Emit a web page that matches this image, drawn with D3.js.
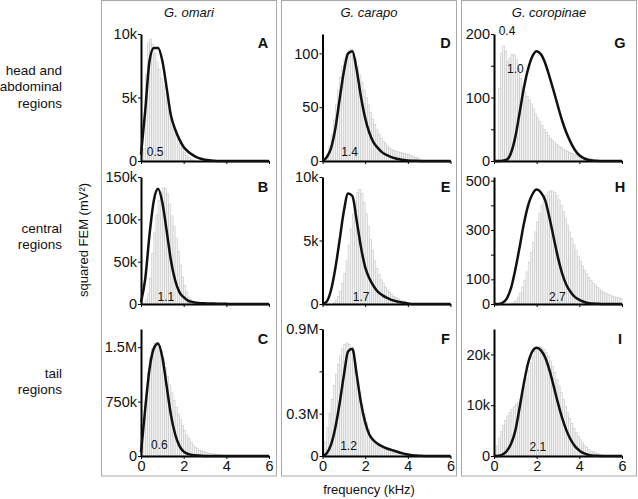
<!DOCTYPE html>
<html><head><meta charset="utf-8">
<script src="https://cdn.jsdelivr.net/npm/d3@7"></script>
<style>
body{margin:0;background:#fff}
svg{display:block}
text{font-family:"Liberation Sans",Arial,sans-serif;fill:#111}
</style>
</head><body>
<svg id="chart" width="638" height="499"></svg>
<script>
// ---------------- DATA ----------------
const species = ["G. omari", "G. carapo", "G. coropinae"];
const regionLabels = [["head and", "abdominal", "regions"], ["central", "regions"], ["tail", "regions"]];
const panelLetters = ["A", "B", "C", "D", "E", "F", "G", "H", "I"];
const xTicks = [0, 2, 4, 6];
const binWidth = 0.1; // kHz
const curveFreq = [0, 0.2, 0.4, 0.6, 0.8, 1.0, 1.2, 1.4, 1.6, 1.8, 2.0, 2.2, 2.4, 2.6, 2.8, 3.0,
  3.2, 3.4, 3.6, 3.8, 4.0, 4.2, 4.4, 4.6, 4.8, 5.0, 5.2, 5.4, 5.6, 5.8, 6.0];

// G. omari
const histA = [0.5, 1.0, 6.8, 9.3, 9.6, 9.2, 8.5, 7.8, 7.2, 6.5, 5.9, 5.3, 4.7, 4.0, 3.3, 2.7, 2.2, 1.8, 1.4, 1.0, 0.7, 0.45, 0.3, 0.15, 0.08];
const curveA = [0.5, 4.0, 7.9, 8.9, 8.9, 7.9, 5.8, 3.6, 2.5, 1.7, 1.1, 0.75, 0.5, 0.3, 0.18, 0.1, 0.05, 0.02, 0, 0, 0, 0, 0, 0, 0, 0, 0, 0, 0, 0, 0];
const histB = [0, 1, 5, 12, 30, 60, 85, 105, 122, 132, 137, 137, 130, 118, 104, 92, 78, 62, 46, 32, 22, 14, 8, 5, 3, 2, 1];
const curveB = [2, 30, 82, 122, 136, 120, 87, 52, 28, 14, 8, 4, 2.5, 1.5, 1, 0.8, 0.6, 0.5, 0.4, 0.3, 0.2, 0, 0, 0, 0, 0, 0, 0, 0, 0, 0];
const histC = [0.15, 0.45, 0.85, 1.15, 1.35, 1.48, 1.55, 1.56, 1.52, 1.44, 1.34, 1.22, 1.1, 0.98, 0.87, 0.77, 0.67, 0.58, 0.5, 0.42, 0.35, 0.29, 0.24, 0.19, 0.15, 0.12, 0.1, 0.08, 0.07, 0.06, 0.05, 0.04, 0.035, 0.03, 0.025, 0.02, 0.018, 0.015, 0.012, 0.01];
const curveC = [0.05, 0.66, 1.2, 1.48, 1.55, 1.36, 0.97, 0.57, 0.3, 0.14, 0.06, 0.03, 0.015, 0.008, 0.004, 0, 0, 0, 0, 0, 0, 0, 0, 0, 0, 0, 0, 0, 0, 0, 0];
// G. carapo
const histD = [0, 2, 6, 14, 25, 38, 52, 66, 78, 88, 95, 100, 103, 104, 101, 95, 88, 80, 73, 66, 59, 52, 45, 39, 34, 29, 25, 21, 18, 16, 14, 12, 11, 10, 9, 8.5, 8, 7.5, 7, 6.5, 6, 5, 4, 3.5, 3, 2, 1];
const curveD = [0, 3.5, 12, 30, 57, 83, 100, 102, 85, 60, 40, 26, 17, 12, 8, 5.6, 3.8, 2.5, 1.6, 0.9, 0.5, 0.3, 0.15, 0.05, 0, 0, 0, 0, 0, 0, 0];
const histE = [0, 0, 0, 0, 0, 0.1, 0.3, 0.6, 1.0, 1.6, 2.4, 3.4, 4.6, 5.9, 7.1, 8.1, 8.8, 9.0, 8.7, 8.0, 7.1, 6.1, 5.1, 4.2, 3.4, 2.8, 2.3, 1.9, 1.6, 1.3, 1.1, 0.9, 0.75, 0.6, 0.5, 0.4, 0.3, 0.25, 0.2, 0.15, 0.1];
const curveE = [0, 0.2, 1.1, 2.8, 5.0, 7.3, 8.7, 8.5, 6.6, 4.5, 2.9, 2.0, 1.4, 0.95, 0.7, 0.5, 0.35, 0.25, 0.15, 0.1, 0.05, 0, 0, 0, 0, 0, 0, 0, 0, 0, 0];
const histF = [0.03, 0.1, 0.2, 0.3, 0.4, 0.5, 0.58, 0.65, 0.71, 0.76, 0.79, 0.8, 0.79, 0.75, 0.69, 0.61, 0.53, 0.45, 0.37, 0.3, 0.24, 0.19, 0.15, 0.12, 0.1, 0.085, 0.075, 0.065, 0.055, 0.048, 0.042, 0.037, 0.032, 0.028, 0.024, 0.02, 0.017, 0.014, 0.012, 0.01, 0.008, 0.006, 0.005, 0.004, 0.003];
const curveF = [0, 0.02, 0.08, 0.2, 0.37, 0.57, 0.74, 0.76, 0.58, 0.38, 0.24, 0.15, 0.11, 0.085, 0.068, 0.055, 0.045, 0.035, 0.025, 0.017, 0.011, 0.006, 0.003, 0.001, 0, 0, 0, 0, 0, 0, 0];
// G. coropinae
const histG = [0, 0, 114, 169, 181, 173, 157, 162, 168, 167, 160, 146, 130, 118, 109, 102, 96, 90, 82, 74, 68, 62, 56, 50, 45, 40, 36, 32, 29, 26, 23, 21, 19, 17, 15, 13.5, 12, 11, 10, 9, 8, 7, 6, 5, 4.5, 4, 3, 2, 1];
const curveG = [0, 0, 0.3, 2, 13, 38, 76, 115, 145, 165, 173, 168, 154, 133, 110, 86, 63, 44, 29, 17, 9, 4.5, 2, 0.8, 0.3, 0.1, 0, 0, 0, 0, 0];
const histH = [0, 0, 0, 0, 0, 0, 0, 0, 3, 8, 15, 28, 45, 68, 97, 130, 168, 208, 250, 292, 332, 368, 398, 424, 442, 454, 459, 458, 452, 440, 422, 400, 375, 348, 320, 292, 265, 240, 216, 194, 173, 154, 137, 122, 108, 96, 85, 76, 67, 60, 53, 48, 43, 39, 35, 32, 29, 27, 25, 23];
const curveH = [0, 0, 5, 22, 65, 140, 230, 325, 400, 445, 464, 452, 420, 350, 268, 188, 122, 76, 48, 28, 17, 9, 4, 2, 1, 0.5, 0, 0, 0, 0, 0];
const histI = [0.5, 2.0, 3.5, 4.8, 6.0, 7.0, 7.9, 8.6, 9.2, 9.7, 10.1, 10.6, 11.2, 12.2, 13.6, 15.2, 16.8, 18.3, 19.6, 20.6, 21.2, 21.5, 21.4, 21.0, 20.4, 19.6, 18.7, 17.6, 16.4, 15.1, 13.8, 12.5, 11.1, 9.8, 8.6, 7.4, 6.4, 5.4, 4.6, 3.8, 3.2, 2.6, 2.1, 1.7, 1.3, 1.0, 0.8, 0.6, 0.45, 0.35, 0.25, 0.18, 0.12, 0.08];
const curveI = [0, 0.05, 0.3, 1.0, 2.4, 5.0, 9.5, 14.3, 18.3, 20.6, 21.3, 20.8, 19.4, 16.9, 13.7, 10.4, 7.4, 5.0, 3.2, 1.9, 1.1, 0.55, 0.25, 0.1, 0.04, 0, 0, 0, 0, 0, 0];

// y-axis extents, ticks and tick labels (in the units of each panel's arrays)
const yMax = [10, 150, 1.75, 118, 10, 0.9, 200, 515, 25];
const yTicksA = [0, 5, 10], yTickLabelsA = ["0", "5k", "10k"];
const yTicksB = [0, 50, 100, 150], yTickLabelsB = ["0", "50k", "100k", "150k"];
const yTicksC = [0, 0.75, 1.5], yTickLabelsC = ["0", "750k", "1.5M"];
const yTicksD = [0, 50, 100], yTickLabelsD = ["0", "50", "100"];
const yTicksE = [0, 5, 10], yTickLabelsE = ["0", "5k", "10k"];
const yTicksF = [0, 0.3, 0.6, 0.9], yTickLabelsF = ["0", "0.3M", "", "0.9M"];
const yTicksG = [0, 50, 100, 150, 200], yTickLabelsG = ["0", "", "100", "", "200"];
const yTicksH = [0, 100, 200, 300, 400, 500], yTickLabelsH = ["0", "100", "", "300", "", "500"];
const yTicksI = [0, 10, 20], yTickLabelsI = ["0", "10k", "20k"];

// peak-frequency annotations: text, frequency (kHz), value
const peakTextA = ["0.5"], peakFreqA = [0.66], peakValA = [0.73];
const peakTextB = ["1.1"], peakFreqB = [1.17], peakValB = [8.6];
const peakTextC = ["0.6"], peakFreqC = [0.86], peakValC = [0.148];
const peakTextD = ["1.4"], peakFreqD = [1.27], peakValD = [8.7];
const peakTextE = ["1.7"], peakFreqE = [1.81], peakValE = [0.6];
const peakTextF = ["1.2"], peakFreqF = [1.22], peakValF = [0.07];
const peakTextG = ["0.4", "1.0"], peakFreqG = [0.61, 1.0], peakValG = [205, 145];
const peakTextH = ["2.7"], peakFreqH = [2.97], peakValH = [30];
const peakTextI = ["2.1"], peakFreqI = [2.06], peakValI = [1.8];

// ---------------- LAYOUT ----------------
const svg = d3.select("#chart");
const colX0 = [141, 322.5, 494];
const rowBase = [161, 304, 456];
const plotW = 128, plotH = 127;
const boxX = [101.5, 281.5, 461.5];

const panels = [
  {h: histA, c: curveA, t: yTicksA, l: yTickLabelsA, pt: peakTextA, pf: peakFreqA, pv: peakValA},
  {h: histB, c: curveB, t: yTicksB, l: yTickLabelsB, pt: peakTextB, pf: peakFreqB, pv: peakValB},
  {h: histC, c: curveC, t: yTicksC, l: yTickLabelsC, pt: peakTextC, pf: peakFreqC, pv: peakValC},
  {h: histD, c: curveD, t: yTicksD, l: yTickLabelsD, pt: peakTextD, pf: peakFreqD, pv: peakValD},
  {h: histE, c: curveE, t: yTicksE, l: yTickLabelsE, pt: peakTextE, pf: peakFreqE, pv: peakValE},
  {h: histF, c: curveF, t: yTicksF, l: yTickLabelsF, pt: peakTextF, pf: peakFreqF, pv: peakValF},
  {h: histG, c: curveG, t: yTicksG, l: yTickLabelsG, pt: peakTextG, pf: peakFreqG, pv: peakValG},
  {h: histH, c: curveH, t: yTicksH, l: yTickLabelsH, pt: peakTextH, pf: peakFreqH, pv: peakValH},
  {h: histI, c: curveI, t: yTicksI, l: yTickLabelsI, pt: peakTextI, pf: peakFreqI, pv: peakValI}
];

// column boxes
boxX.forEach(bx => {
  svg.append("rect").attr("x", bx).attr("y", 0.5).attr("width", 175).attr("height", 475.5)
    .attr("fill", "none").attr("stroke", "#a8a8a8").attr("stroke-width", 1);
});

// species titles
species.forEach((s, i) => {
  svg.append("text").attr("x", boxX[i] + 87.5).attr("y", 17).attr("text-anchor", "middle")
    .attr("font-size", 13).attr("font-style", "italic").text(s);
});

// row labels
const rowLabelY = [70, 228, 373];
regionLabels.forEach((lines, r) => {
  lines.forEach((ln, k) => {
    svg.append("text").attr("x", 62).attr("y", rowLabelY[r] + k * 16.5).attr("dy", "0.35em")
      .attr("text-anchor", "end").attr("font-size", 13.5).text(ln);
  });
});

// axis titles
svg.append("text").attr("transform", "translate(88,240) rotate(-90)").attr("text-anchor", "middle")
  .attr("font-size", 13).text("squared FEM (mV²)");
svg.append("text").attr("x", 369).attr("y", 494).attr("text-anchor", "middle")
  .attr("font-size", 13).text("frequency (kHz)");

const letterX = [263, 445.5, 620];

panels.forEach((p, idx) => {
  const col = Math.floor(idx / 3), row = idx % 3;
  const x0 = colX0[col], base = rowBase[row];
  const x = d3.scaleLinear().domain([0, 6]).range([x0, x0 + plotW]);
  const y = d3.scaleLinear().domain([0, yMax[idx]]).range([base, base - plotH]);
  const g = svg.append("g");

  // histogram bars
  g.append("g").selectAll("rect").data(p.h.map((v, i) => ({i, v})).filter(d => d.v > 0))
    .join("rect")
    .attr("x", d => x(d.i * binWidth))
    .attr("width", d => x((d.i + 1) * binWidth) - x(d.i * binWidth))
    .attr("y", d => y(d.v))
    .attr("height", d => base - y(d.v))
    .attr("fill", "#f3f3f3")
    .attr("stroke", "#c4c4c4")
    .attr("stroke-width", 0.55);

  // peak annotations
  p.pt.forEach((t, k) => {
    g.append("text").attr("x", x(p.pf[k])).attr("y", y(p.pv[k])).attr("dy", "0.35em")
      .attr("text-anchor", "middle").attr("font-size", 12).attr("fill", "#222").text(t);
  });

  // y axis
  const ya = g.append("g").attr("transform", `translate(${x0},0)`)
    .call(d3.axisLeft(y).tickValues(p.t).tickFormat((d, i) => p.l[i]).tickSize(3).tickSizeOuter(0).tickPadding(1));
  ya.select(".domain").attr("stroke", "#000").attr("stroke-width", 2);
  ya.selectAll(".tick line").attr("stroke", "#000").attr("stroke-width", 1);
  ya.selectAll(".tick text").attr("font-size", 14.5).attr("font-family", "Liberation Sans, Arial, sans-serif").attr("fill", "#111");

  // x axis
  const xa = g.append("g").attr("transform", `translate(0,${base})`)
    .call(d3.axisBottom(x).tickValues(xTicks).tickSize(3).tickSizeOuter(0).tickPadding(2)
      .tickFormat(row === 2 ? d3.format("d") : () => ""));
  xa.select(".domain").attr("stroke", "#000").attr("stroke-width", 2);
  xa.selectAll(".tick line").attr("stroke", "#000").attr("stroke-width", 1);
  xa.selectAll(".tick text").attr("font-size", 14.5).attr("font-family", "Liberation Sans, Arial, sans-serif").attr("fill", "#111");

  // fitted curve
  const line = d3.line().x((d, i) => x(curveFreq[i])).y(d => y(d)).curve(d3.curveMonotoneX);
  g.append("path").datum(p.c).attr("d", line).attr("fill", "none")
    .attr("stroke", "#111").attr("stroke-width", 2.5).attr("stroke-linejoin", "round");

  // panel letter
  g.append("text").attr("x", letterX[col]).attr("y", base - plotH + 15 - (row === 0 ? 1 : 0))
    .attr("text-anchor", "middle").attr("font-size", 14.5).attr("font-weight", "bold").text(panelLetters[idx]);
});
</script>
</body></html>
